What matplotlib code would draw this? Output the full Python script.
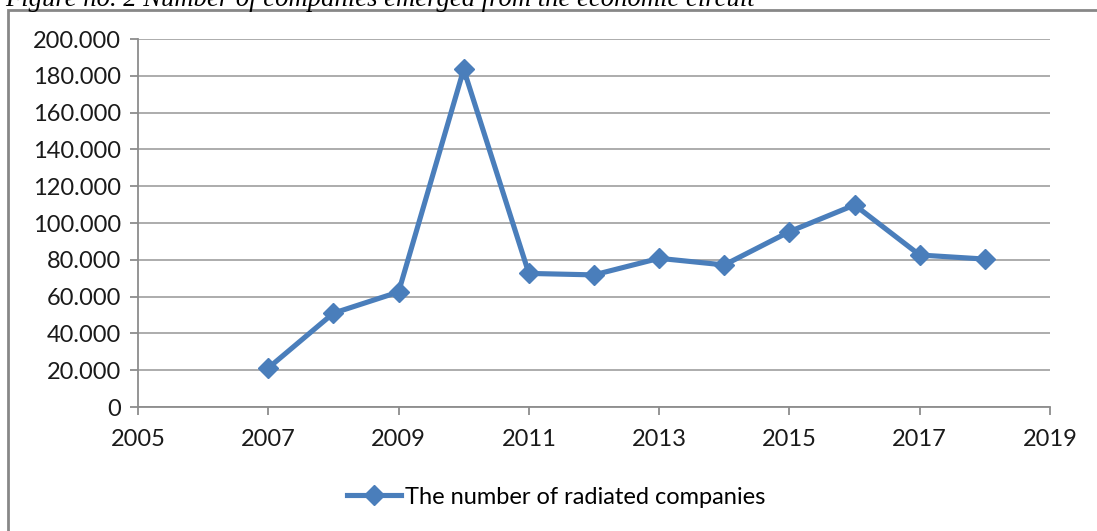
import matplotlib.pyplot as plt
from matplotlib.patches import Rectangle

plt.rcParams['font.family'] = ['Lato', 'DejaVu Sans']

years = [2007, 2008, 2009, 2010, 2011, 2012, 2013, 2014, 2015, 2016, 2017, 2018]
companies = [21.2, 51.0, 62.5, 183.5, 72.6, 71.8, 80.8, 77.2, 95.3, 109.8, 82.6, 80.4]
yticks = [0, 20, 40, 60, 80, 100, 120, 140, 160, 180, 200]
ytick_labels = ['0'] + ['{}.000'.format(v) for v in yticks[1:]]
xticks = [2005, 2007, 2009, 2011, 2013, 2015, 2017, 2019]
series_name = 'The number of radiated companies'
caption = 'Figure no. 2 Number of companies emerged from the economic circuit'

W, H = 1097, 531
fig = plt.figure(figsize=(W / 100, H / 100), dpi=100)

# outer chart frame (cut off on the right and bottom, as in the source)
fig.patches.append(Rectangle((8 / W, -0.2), 1.2, 1 - 10 / H + 0.2,
                             transform=fig.transFigure, fill=False,
                             edgecolor='#878787', linewidth=2))

fig.text(5 / W, 1 - 6 / H, caption, family='Liberation Serif', style='italic',
         fontsize=19.2, ha='left', va='baseline', color='black')

ax = fig.add_axes([138 / W, 1 - 407 / H, (1050 - 138) / W, (407 - 39) / H])
ax.plot(years, companies, color='#4A7EBB', linewidth=3.7, marker='D',
        markersize=10.5, label=series_name, zorder=3)

ax.set_xlim(2005, 2019)
ax.set_ylim(0, 200)
ax.set_xticks(xticks)
ax.set_yticks(yticks)
ax.set_yticklabels(ytick_labels)
ax.grid(axis='y', color='#a6a6a6', linewidth=1.3)
ax.set_axisbelow(True)

for s in ['top', 'right']:
    ax.spines[s].set_visible(False)
for s in ['left', 'bottom']:
    ax.spines[s].set_color('#8c8c8c')
    ax.spines[s].set_linewidth(1.3)
ax.tick_params(axis='both', colors='#8c8c8c', length=6, width=1.3,
               labelsize=17, labelcolor='#1a1a1a')
ax.tick_params(axis='y', pad=6)
ax.tick_params(axis='x', pad=10)

fig.legend(loc='center', bbox_to_anchor=(556 / W, 1 - 497 / H), frameon=False,
           fontsize=17, handlelength=2.3, handletextpad=0.15)

fig.savefig('out.png', dpi=100)
